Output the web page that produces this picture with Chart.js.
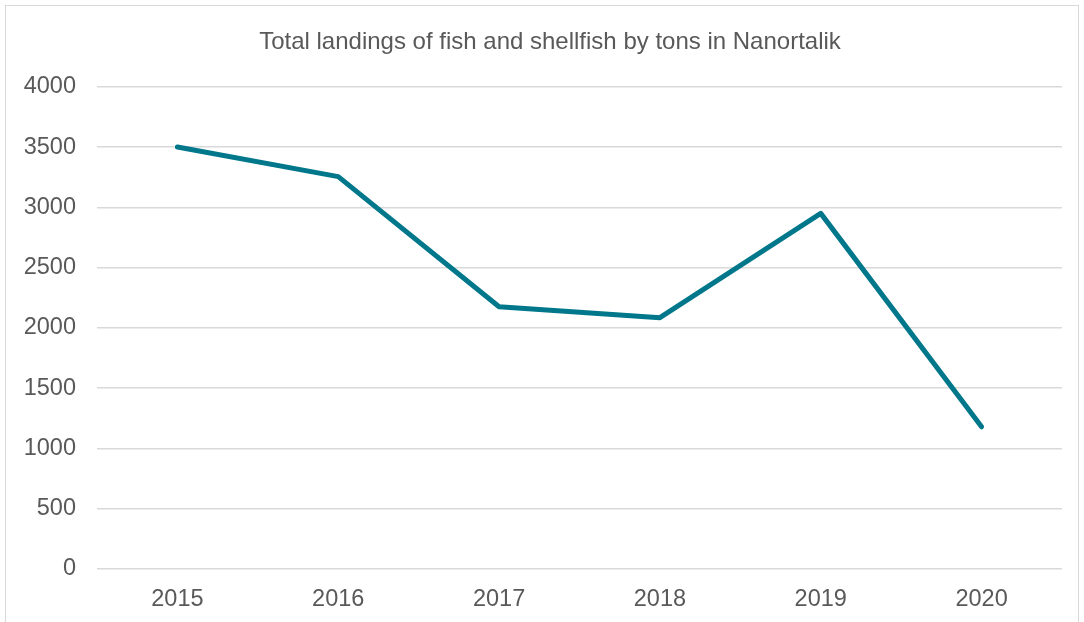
<!DOCTYPE html>
<html>
<head>
<meta charset="utf-8">
<script src="https://cdn.jsdelivr.net/npm/chart.js@4.4.1/dist/chart.umd.min.js"></script>
<style>
  html, body { margin: 0; padding: 0; background: #fff; }
  #frame {
    position: absolute; left: 5px; top: 5px; width: 1074px; height: 640px;
    border: 1px solid #d9d9d9; box-sizing: border-box;
  }
  #wrap { position: absolute; left: 0; top: 0; width: 1084px; height: 622px; }
</style>
</head>
<body>
<div id="frame"></div>
<div id="wrap"><canvas id="myChart"></canvas></div>
<script>
// landings per year, tons
var years = ['2015', '2016', '2017', '2018', '2019', '2020'];
var landings = [3500, 3255, 2175, 2085, 2950, 1180];
var yTicks = [0, 500, 1000, 1500, 2000, 2500, 3000, 3500, 4000];

var textGrey = '#595959';
var font = 'Liberation Sans, Arial, sans-serif';

// centre the title inside the framed box rather than the whole canvas
var titleShift = {
    id: 'titleShift',
    afterLayout: function (chart) {
        if (chart.titleBlock) {
            chart.titleBlock.left = 38;
        }
    }
};

var ctx = document.getElementById('myChart').getContext('2d');
var chart = new Chart(ctx, {
    type: 'line',
    data: {
        labels: years,
        datasets: [{
            label: 'Total landings',
            data: landings,
            borderColor: '#00778a',
            backgroundColor: '#00778a',
            borderWidth: 5,
            borderCapStyle: 'round',
            borderJoinStyle: 'round',
            pointRadius: 0,
            tension: 0,
            fill: false
        }]
    },
    options: {
        responsive: true,
        maintainAspectRatio: false,
        animation: false,
        layout: { padding: { top: 0, left: 0, right: 22, bottom: 11 } },
        plugins: {
            legend: { display: false },
            tooltip: { enabled: false },
            title: {
                display: true,
                text: 'Total landings of fish and shellfish by tons in Nanortalik',
                color: textGrey,
                font: { family: font, size: 24, weight: 'normal' },
                padding: { top: 28, bottom: 30 }
            }
        },
        scales: {
            x: {
                offset: true,
                grid: { display: false, drawTicks: false },
                border: { display: false },
                ticks: {
                    color: textGrey,
                    font: { family: font, size: 23.5 },
                    padding: 16
                },
                afterFit: function (s) { s.height = 42; }
            },
            y: {
                min: 0,
                max: 4000,
                afterBuildTicks: function (s) {
                    s.ticks = yTicks.map(function (v) { return { value: v }; });
                },
                grid: { color: '#d9d9d9', lineWidth: 1.5, drawTicks: false },
                border: { display: false },
                ticks: {
                    color: textGrey,
                    font: { family: font, size: 23.5 },
                    padding: 21,
                    callback: function (v) { return String(v); }
                },
                afterFit: function (s) { s.width = 97; }
            }
        }
    },
    plugins: [titleShift]
});
</script>
</body>
</html>
